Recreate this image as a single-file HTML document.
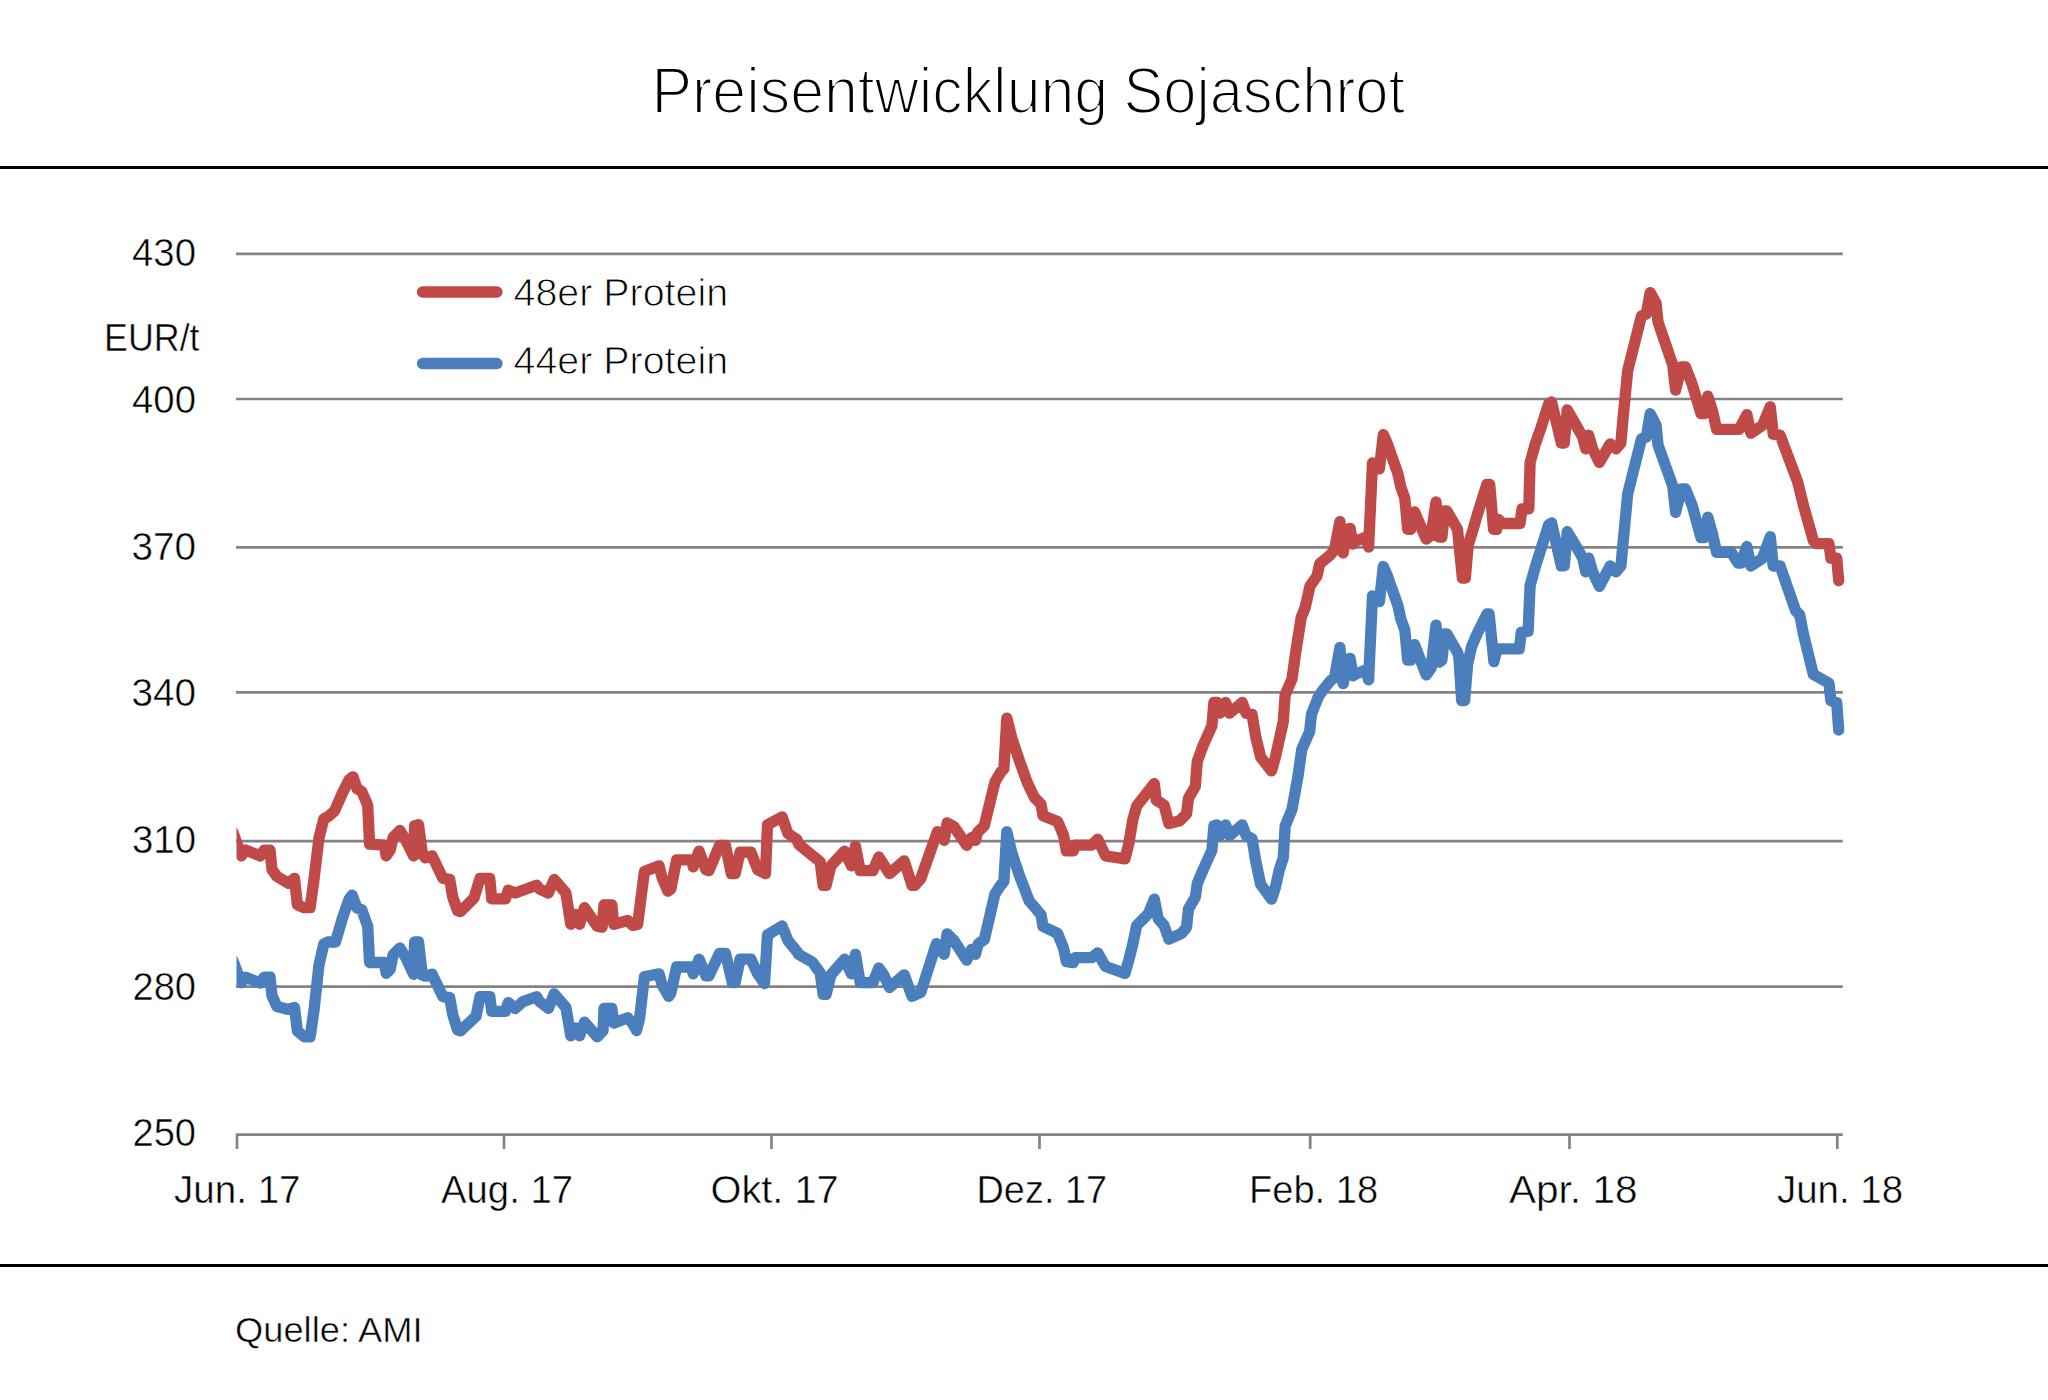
<!DOCTYPE html>
<html lang="de"><head><meta charset="utf-8"><title>Preisentwicklung Sojaschrot</title>
<style>
html,body{margin:0;padding:0;background:#fff;}
body{width:2048px;height:1400px;overflow:hidden;position:relative;font-family:"Liberation Sans",sans-serif;}
svg{position:absolute;left:0;top:0;display:block;}
text{font-family:"Liberation Sans",sans-serif;fill:#000;}
.t{font-size:65px;stroke:#fff;stroke-width:2.1px;}
.a{font-size:38.7px;stroke:#fff;stroke-width:0.5px;}
.l{font-size:38px;stroke:#fff;stroke-width:0.9px;}
.q{font-size:35px;stroke:#fff;stroke-width:0.5px;}
.g{stroke:#848282;stroke-width:2.7;fill:none;}
.s{fill:none;stroke-width:11.3;stroke-linejoin:round;stroke-linecap:round;}
</style></head><body>
<svg width="2048" height="1400" viewBox="0 0 2048 1400">
<defs><clipPath id="c"><rect x="236.5" y="200" width="1620" height="940"/></clipPath></defs>
<rect x="0" y="0" width="2048" height="1400" fill="#fff"/>
<rect x="0" y="166" width="2048" height="3" fill="#000"/>
<rect x="0" y="1264" width="2048" height="3" fill="#000"/>
<line class="g" x1="236" y1="253.9" x2="1842.8" y2="253.9"/>
<line class="g" x1="236" y1="399.0" x2="1842.8" y2="399.0"/>
<line class="g" x1="236" y1="547.3" x2="1842.8" y2="547.3"/>
<line class="g" x1="236" y1="692.4" x2="1842.8" y2="692.4"/>
<line class="g" x1="236" y1="841.1" x2="1842.8" y2="841.1"/>
<line class="g" x1="236" y1="986.7" x2="1842.8" y2="986.7"/>
<line class="g" x1="236" y1="1134.6" x2="1842.8" y2="1134.6"/>
<line class="g" x1="237" y1="1134.6" x2="237" y2="1149"/>
<line class="g" x1="504" y1="1134.6" x2="504" y2="1149"/>
<line class="g" x1="771.5" y1="1134.6" x2="771.5" y2="1149"/>
<line class="g" x1="1039.5" y1="1134.6" x2="1039.5" y2="1149"/>
<line class="g" x1="1310.2" y1="1134.6" x2="1310.2" y2="1149"/>
<line class="g" x1="1569.5" y1="1134.6" x2="1569.5" y2="1149"/>
<line class="g" x1="1837.3" y1="1134.6" x2="1837.3" y2="1149"/>
<text class="t" y="112.6"><tspan x="651.50" textLength="456.70" lengthAdjust="spacingAndGlyphs">Preisentwicklung</tspan> <tspan x="1123.50" textLength="281.55" lengthAdjust="spacingAndGlyphs">Sojaschrot</tspan></text>
<text class="a" x="132.00" y="266" textLength="64.00" lengthAdjust="spacingAndGlyphs">430</text>
<text class="a" x="132.00" y="412.5" textLength="64.00" lengthAdjust="spacingAndGlyphs">400</text>
<text class="a" x="131.50" y="560" textLength="64.57" lengthAdjust="spacingAndGlyphs">370</text>
<text class="a" x="131.50" y="706" textLength="64.57" lengthAdjust="spacingAndGlyphs">340</text>
<text class="a" x="132.00" y="853" textLength="64.05" lengthAdjust="spacingAndGlyphs">310</text>
<text class="a" x="132.50" y="1000" textLength="63.55" lengthAdjust="spacingAndGlyphs">280</text>
<text class="a" x="132.50" y="1146" textLength="63.55" lengthAdjust="spacingAndGlyphs">250</text>
<text class="a" x="104.00" y="351" textLength="95.54" lengthAdjust="spacingAndGlyphs">EUR/t</text>
<text class="a" x="174.00" y="1202.5" textLength="126.54" lengthAdjust="spacingAndGlyphs">Jun. 17</text>
<text class="a" x="441.00" y="1202.5" textLength="132.00" lengthAdjust="spacingAndGlyphs">Aug. 17</text>
<text class="a" x="710.50" y="1202.5" textLength="128.07" lengthAdjust="spacingAndGlyphs">Okt. 17</text>
<text class="a" x="976.50" y="1202.5" textLength="130.61" lengthAdjust="spacingAndGlyphs">Dez. 17</text>
<text class="a" x="1249.00" y="1202.5" textLength="129.09" lengthAdjust="spacingAndGlyphs">Feb. 18</text>
<text class="a" x="1509.00" y="1202.5" textLength="128.52" lengthAdjust="spacingAndGlyphs">Apr. 18</text>
<text class="a" x="1777.00" y="1202.5" textLength="126.02" lengthAdjust="spacingAndGlyphs">Jun. 18</text>
<text class="l" x="513.50" y="306" textLength="214.53" lengthAdjust="spacingAndGlyphs">48er Protein</text>
<text class="l" x="513.50" y="374.4" textLength="214.53" lengthAdjust="spacingAndGlyphs">44er Protein</text>
<text class="q" x="235.00" y="1342.3" textLength="187.60" lengthAdjust="spacingAndGlyphs">Quelle: AMI</text>
<g clip-path="url(#c)">
<polyline class="s" stroke="#4B7EBC" points="232.9,960.6 241.3,982.7 245.6,977.2 260.3,983 264.2,977.2 270,977.2 272,995.7 276.9,1006.5 288.6,1009.4 294.5,1007.5 297.4,1030.9 304.2,1036.8 310.1,1036.8 314,1010.4 318.9,965.5 323.8,944 327.7,942 335.5,942 342.3,918.6 349.1,899.1 352.1,895.2 357,907.9 361.8,909.8 367.7,926.4 369.6,962.5 384.3,962.5 386.2,973.3 390.2,969.4 393.1,954.7 399.9,947.9 405.8,957.7 413.6,974.3 414.6,942 418.5,942 422.4,975.2 425.3,976.2 432.1,974.3 442.9,996.7 449.7,997.7 452.7,1014.3 457.5,1029.9 460.5,1030.9 476.1,1016.2 480,996.7 489.8,996.7 491.7,1011.4 505.4,1011.4 508.3,1002.6 515.2,1008.4 523,1001.6 536.6,996.7 539.6,1001.6 548.4,1008.4 554.2,993.8 565.9,1007.5 570.8,1035.8 575.7,1028 579.6,1035.8 584.5,1022.1 597.2,1036.8 603,1030.9 604,1008.4 611.8,1008.4 613.8,1023.1 627.8,1017.8 632.7,1023.6 636.6,1030.5 639.5,1018.8 644.4,976.8 659.1,973.8 662,984.6 668.8,996.3 670.8,993.4 676.6,967 691.3,967 693.2,973.8 699.1,959.2 705.9,975.8 708.9,975.8 719.6,953.3 725.5,953.3 732.3,982.6 735.2,982.6 740.1,959.2 750.9,959.2 757.7,973.8 764.5,983.6 767.5,934.8 782.1,926 788,940.6 796.8,951.4 798.7,954.3 812.4,962.1 820.2,972.9 823.1,994.3 826.1,994.3 830.9,974.8 844.6,959.2 851.4,973.8 855.4,954.3 860.2,982.6 872.9,982.6 878.8,968 883.7,974.8 889.5,987.5 904.2,974.8 912,996.3 920.8,992.4 936.4,943.6 944.2,954.3 947.1,933.8 954,940.6 966.7,960.2 971.6,949.4 975.5,954.3 978.4,943.6 984.3,939.6 995,893.8 1000.9,885 1003.9,881.6 1006.8,831.8 1011.7,852.3 1019.5,875.7 1029.3,901.1 1035.2,907.9 1041,914.8 1043,926.5 1057.6,933.3 1063.5,948 1066.4,961.6 1073.2,962.6 1075.2,957.7 1091.8,957.7 1097.7,952.9 1105.5,966.5 1125,973.4 1128.9,959.7 1132.8,944.1 1136.7,925.5 1148.4,913.8 1154.3,899.1 1158.2,918.7 1164.1,925.5 1168.9,939.2 1181.6,933.3 1186.5,927.5 1188.5,908.9 1195.3,897.2 1197.3,883.5 1203.1,869.8 1211.9,850.3 1213.9,825.9 1216.8,824.9 1219.7,835.7 1225.6,824.9 1229.5,835.7 1242.2,824.9 1246.1,835.7 1252,838.6 1255.9,862 1260.7,884.5 1271.5,899.1 1275.4,887.4 1279.3,869.8 1283.2,858.1 1285.2,825.9 1292,809.3 1297.9,776.7 1301.8,749.4 1309.6,731.8 1311.5,714.2 1318.4,696.6 1322.3,690.8 1330.5,680.7 1334.5,677.8 1339.9,647.5 1343.2,683.7 1347.1,659.3 1350.1,658.3 1353,675.9 1355.9,673.9 1365.7,670 1368.6,679.8 1372.5,595.8 1379.4,601.6 1383.3,566.5 1387.2,575.3 1397.9,605.5 1400.9,619.2 1404.8,630 1407.7,660.2 1410.6,660.2 1414.5,644.6 1426.2,674.9 1431.1,668 1436,625.1 1438.9,662.2 1441.9,660.2 1444.8,633.9 1446.8,633.9 1457.5,652.4 1458.8,656.7 1461.7,700.7 1464.6,700.7 1467.6,664.5 1471.5,647 1477.3,633.3 1487.1,613.8 1489.1,613.8 1493.9,661.6 1496.9,648.9 1519.3,648.9 1521.3,632.3 1528.1,631.3 1530.1,585.4 1535,567.9 1541.8,546.4 1548.6,524.9 1551.6,522.9 1561.3,565.9 1564.3,565.9 1567.2,531.7 1575,544.4 1582.8,558.1 1585.7,571.8 1588.7,558.1 1592.6,571.8 1599.4,586.4 1610.2,565.9 1616,571.8 1620.9,565.9 1622.9,544.4 1627.7,493.8 1637.5,454.7 1641.4,439.1 1646.3,437.1 1650.2,413.7 1656.1,425.4 1658,444.9 1672.7,485.9 1675.6,512.3 1681.4,488.9 1685.4,488.9 1692.2,505.5 1701,537.7 1703.9,537.7 1707.8,517.2 1712.7,534.8 1716.6,552.3 1731.2,552.3 1738.1,563.1 1741,563.1 1746.9,546.5 1750.8,566 1762.5,558.2 1770.3,536.7 1773.2,566 1780.1,566 1795.7,610.8 1799.6,614.7 1803.5,634.3 1813.3,674.3 1828.9,683.1 1830.9,700.7 1836.7,702.6 1838.7,730"/>
<polyline class="s" stroke="#C04A48" points="232.9,832.1 241.3,855.9 245.6,850.1 260.3,855.9 264.2,850.1 270,850.1 272,869.6 276.9,876.4 288.6,883.3 294.5,878.4 297.4,904.8 304.2,907.7 310.1,907.7 314,879.4 318.9,838.4 323.8,818.8 327.7,816.9 334.5,811 342.3,793.4 349.1,779.8 353,776.8 357,788.6 361.8,791.5 367.7,805.2 369.6,844.2 384.3,845.2 386.2,855.9 390.2,850.1 393.1,837.4 399.9,830.5 405.8,840.3 413.6,855.9 414.6,825.7 418.5,824.7 422.4,854 425.3,857.9 432.1,855.9 442.9,878.4 449.7,879.4 452.7,897 457.5,910.6 460.5,911.6 474.1,897.9 480,878.4 489.8,878.4 491.7,898.9 505.4,898.9 508.3,890.1 515.2,893 536.6,885.2 539.6,889.1 548.4,893 554.2,879.4 565.9,893 570.8,924.3 575.7,914.5 579.6,924.3 584.5,907.7 597.2,926.2 602.1,927.2 604,904.8 611.8,904.8 613.8,924.3 627.8,920.5 632.7,925.4 637.6,924.4 644.4,871.6 659.1,865.8 662,877.5 667.9,891.2 670.8,889.2 676.6,859.9 692.3,859.9 693.2,866.8 699.1,851.1 705.9,869.7 708.9,870.7 719.6,845.3 725.5,845.3 731.3,873.6 735.2,873.6 740.1,852.1 750.9,852.1 757.7,869.7 765.5,873.6 767.5,824.8 782.1,817 788,833.6 796.8,839.4 798.7,844.3 820.2,861.9 823.1,885.3 826.1,885.3 830.9,865.8 844.6,851.1 851.4,865.8 855.4,846.2 860.2,870.7 872.9,870.7 878.8,857 889.5,873.6 904.2,860.9 912,885.3 914.9,885.3 920.8,878.5 937.4,831.6 944.2,840.4 947.1,822.8 954,826.7 966.7,845.3 971.6,837.5 975.5,840.4 977.4,832.6 984.3,825.7 995,781.8 1000.9,772 1003.9,768.9 1006.8,718.1 1011.7,737.7 1019.5,761.1 1027.3,782.6 1034.2,797.2 1041,804.1 1043,815.8 1057.6,821.6 1063.5,835.3 1066.4,850.9 1073.2,850.9 1075.2,845.1 1091.8,845.1 1097.7,839.2 1105.5,855.8 1125,858.8 1128.9,843.1 1132.8,819.7 1136.7,806 1154.3,783.6 1156.2,800.2 1164.1,805 1168.9,823.6 1179.7,820.7 1186.5,813.8 1188.5,798.2 1195.3,786.5 1197.3,761.1 1203.1,745.5 1211.9,725.9 1213.9,702.5 1216.8,702.5 1219.7,713.2 1225.6,702.5 1229.5,713.2 1242.2,702.5 1246.1,713.2 1252,714.2 1255.9,737.7 1260.7,757.2 1271.5,770.9 1275.4,757.2 1283.2,722 1285.2,694.7 1292,679.1 1295.4,654.4 1301.2,617.3 1305.2,607.5 1310,586 1316.9,576.2 1319.8,563.6 1330.5,554.8 1334.5,549.9 1339.9,521.6 1343.2,552.8 1347.1,529.4 1350.1,528.4 1353,544 1355.9,541.1 1365.7,537.2 1368.6,547 1372.5,463 1379.4,468.8 1383.3,434.6 1387.2,443.4 1397.9,473.7 1400.9,487.4 1404.8,498.1 1407.7,529.4 1410.6,529.4 1414.5,511.8 1426.2,539.1 1431.1,535.2 1436,502 1438.9,537.2 1441.9,537.2 1444.8,510.8 1446.8,510.8 1457.5,529.4 1462.4,578.2 1465.3,578.2 1468.2,545 1473.1,529.4 1477,515.7 1486.8,484.5 1489.7,484.5 1493.6,529.4 1496.6,529.4 1498.5,519.6 1502.4,523.5 1520,523.5 1522,508.9 1528.8,508.9 1530.1,462.5 1535,444.9 1541.8,425.4 1548.6,403.9 1551.6,402 1561.3,443 1564.3,443 1567.2,409.8 1575,423.4 1582.8,437.1 1585.7,448.8 1588.7,435.2 1592.6,448.8 1599.4,462.5 1610.2,443.9 1616,448.8 1620.9,443 1622.9,419.5 1627.7,370.7 1637.5,331.6 1641.4,316 1646.3,314.1 1650.2,292.6 1656.1,303.3 1658,321.9 1672.7,364.8 1675.6,390.2 1681.4,366.8 1685.4,366.8 1692.2,384.4 1701,413.7 1703.9,413.7 1707.8,396.1 1712.7,411.7 1716.6,429.3 1739.1,429.3 1746.9,414.6 1750.8,433.2 1762.5,425.4 1770.3,406.8 1773.2,434.2 1780.1,435.2 1797.7,482 1803.5,505.5 1813.3,540.6 1816.2,543.6 1828.9,543.6 1830.9,558.2 1836.7,558.2 1838.7,580.7"/>
</g>
<line class="s" x1="422.5" y1="292" x2="497" y2="292" stroke="#C04A48"/>
<line class="s" x1="422.5" y1="363.5" x2="497" y2="363.5" stroke="#4B7EBC"/>
</svg>
</body></html>
